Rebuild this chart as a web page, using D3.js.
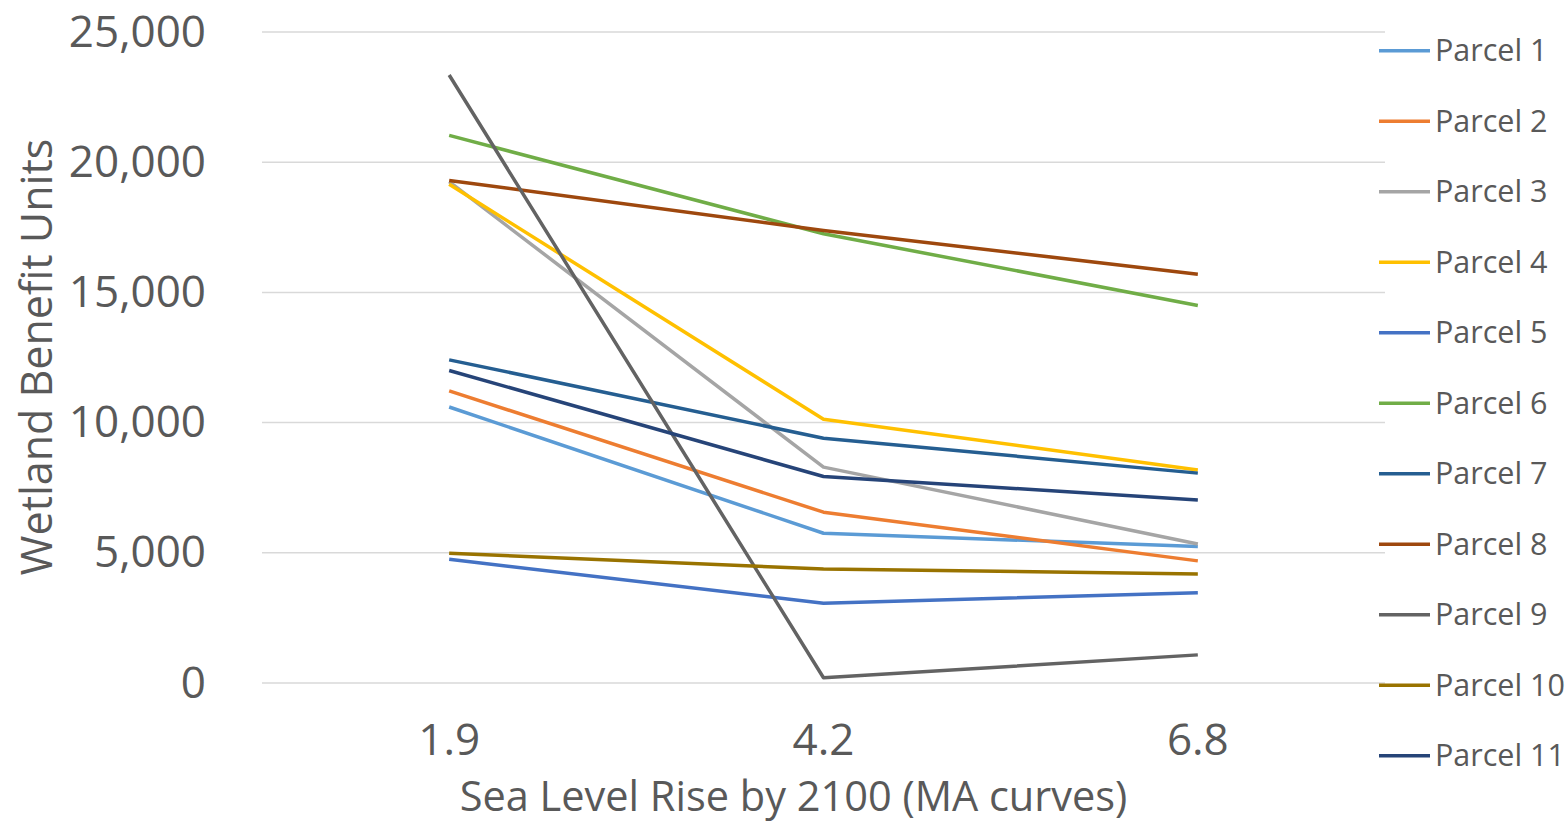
<!DOCTYPE html>
<html>
<head>
<meta charset="utf-8">
<script src="https://cdn.jsdelivr.net/npm/d3@7"></script>
<style>
  body { margin: 0; background: #fff; }
  text { font-family: "Open Sans", sans-serif; fill: #595959; }
</style>
</head>
<body>
<div id="app"></div>
<script>
// sea level rise scenarios
const categories = ["1.9", "4.2", "6.8"];
const parcels = ["Parcel 1", "Parcel 2", "Parcel 3", "Parcel 4", "Parcel 5", "Parcel 6",
  "Parcel 7", "Parcel 8", "Parcel 9", "Parcel 10", "Parcel 11"];
const parcel1 = [10600, 5750, 5240];
const parcel2 = [11220, 6560, 4690];
const parcel3 = [19250, 8290, 5340];
const parcel4 = [19150, 10130, 8180];
const parcel5 = [4750, 3060, 3470];
const parcel6 = [21030, 17250, 14500];
const parcel7 = [12410, 9400, 8060];
const parcel8 = [19300, 17380, 15700];
const parcel9 = [23350, 200, 1080];
const parcel10 = [4980, 4380, 4190];
const parcel11 = [12000, 7930, 7030];
const yTicks = [0, 5000, 10000, 15000, 20000, 25000];
const colors = ["#5B9BD5", "#ED7D31", "#A5A5A5", "#FFC000", "#4472C4", "#70AD47",
  "#255E91", "#9E480E", "#636363", "#997300", "#264478"];

const series = [parcel1, parcel2, parcel3, parcel4, parcel5, parcel6,
  parcel7, parcel8, parcel9, parcel10, parcel11];

const width = 1566;
const height = 824;
const marginLeft = 262;
const marginRight = 181;
const marginTop = 32;
const marginBottom = 141;

const svg = d3.select('#app')
  .append('svg')
  .attr('width', width)
  .attr('height', height);

const x = d3.scaleBand()
  .domain(categories)
  .range([marginLeft, width - marginRight]);

const y = d3.scaleLinear()
  .domain([0, 25000])
  .range([height - marginBottom, marginTop]);

// gridlines
svg.append('g')
  .selectAll('line')
  .data(yTicks)
  .join('line')
  .attr('x1', marginLeft)
  .attr('x2', width - marginRight)
  .attr('y1', d => y(d))
  .attr('y2', d => y(d))
  .attr('stroke', '#d9d9d9')
  .attr('stroke-width', 1.5);

// y axis labels
const yAxis = svg.append('g')
  .attr('transform', `translate(${marginLeft - 56},0)`)
  .call(d3.axisLeft(y).tickValues(yTicks).tickSize(0).tickPadding(0).tickFormat(d3.format(',')));
yAxis.select('.domain').remove();
yAxis.selectAll('text')
  .attr('font-size', 44)
  .attr('font-family', '"Open Sans", sans-serif')
  .attr('fill', '#595959');

// x axis labels
const xAxis = svg.append('g')
  .attr('transform', `translate(0,${height - marginBottom + 41})`)
  .call(d3.axisBottom(x).tickSize(0).tickPadding(0));
xAxis.select('.domain').remove();
xAxis.selectAll('text')
  .attr('font-size', 44)
  .attr('font-family', '"Open Sans", sans-serif')
  .attr('fill', '#595959');

// axis titles
svg.append('text')
  .attr('x', (marginLeft + width - marginRight) / 2 - 30)
  .attr('y', 811)
  .attr('text-anchor', 'middle')
  .attr('font-size', 41.5)
  .text('Sea Level Rise by 2100 (MA curves)');

svg.append('text')
  .attr('transform', `translate(52,357) rotate(-90)`)
  .attr('text-anchor', 'middle')
  .attr('font-size', 43)
  .text('Wetland Benefit Units');

// lines
const line = d3.line()
  .x((d, i) => x(categories[i]) + x.bandwidth() / 2)
  .y(d => y(d));

svg.append('g')
  .selectAll('path')
  .data(series)
  .join('path')
  .attr('d', line)
  .attr('fill', 'none')
  .attr('stroke', (d, i) => colors[i])
  .attr('stroke-width', 3.5)
  .attr('stroke-linejoin', 'round');

// legend
const legend = svg.append('g')
  .selectAll('g')
  .data(parcels)
  .join('g')
  .attr('transform', (d, i) => `translate(1379,${50.7 + i * 70.5})`);

legend.append('line')
  .attr('x1', 0)
  .attr('x2', 51)
  .attr('stroke', (d, i) => colors[i])
  .attr('stroke-width', 3.5);

legend.append('text')
  .attr('x', 56)
  .attr('dy', '0.35em')
  .attr('font-size', 30.5)
  .text(d => d);
</script>
</body>
</html>
